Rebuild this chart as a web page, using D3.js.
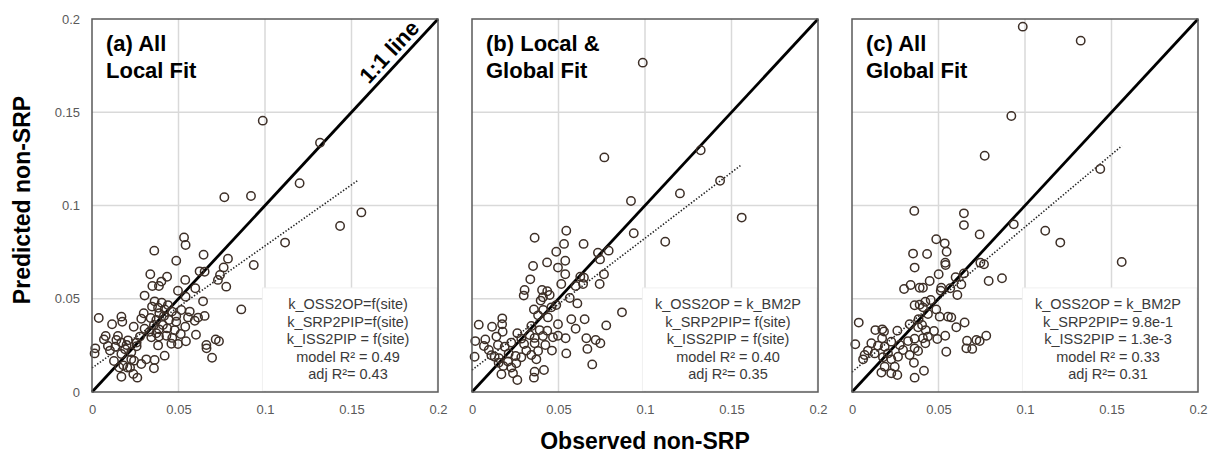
<!DOCTYPE html>
<html>
<head>
<meta charset="utf-8">
<script src="https://cdn.jsdelivr.net/npm/d3@7"></script>
<style>
    body { margin: 0; background: #fff; }
    svg { font-family: "Liberation Sans", Arial, sans-serif; display: block; }
</style>
</head>
<body>
<div id="chart"></div>
<script>
// observed vs predicted non-SRP, [observed, predicted]
const localFit = [
    [0.0532,0.0829],[0.0541,0.0788],[0.0360,0.0758],[0.0645,0.0736],[0.0786,0.0715],[0.0487,0.0704],
    [0.0935,0.0681],[0.0761,0.0668],[0.0622,0.0647],[0.0651,0.0645],[0.0337,0.0631],[0.0434,0.0618],
    [0.0740,0.0627],[0.0728,0.0601],[0.0539,0.0601],[0.0401,0.0592],[0.0349,0.0568],[0.0387,0.0568],
    [0.0776,0.0565],[0.0597,0.0556],[0.0497,0.0543],[0.0304,0.0517],[0.0541,0.0511],[0.0642,0.0486],
    [0.0362,0.0486],[0.0403,0.0479],[0.0439,0.0466],[0.0347,0.0458],[0.0382,0.0452],[0.0420,0.0443],
    [0.0863,0.0443],[0.0462,0.0431],[0.0516,0.0440],[0.0565,0.0431],[0.0299,0.0422],[0.0389,0.0422],
    [0.0416,0.0408],[0.0339,0.0397],[0.0487,0.0408],[0.0555,0.0400],[0.0613,0.0399],[0.0651,0.0408],
    [0.0039,0.0397],[0.0170,0.0404],[0.0285,0.0393],[0.0372,0.0386],[0.0445,0.0386],[0.0175,0.0377],
    [0.0116,0.0363],[0.0358,0.0359],[0.0410,0.0359],[0.0487,0.0377],[0.0594,0.0382],[0.0539,0.0350],
    [0.0241,0.0350],[0.0304,0.0339],[0.0435,0.0341],[0.0387,0.0336],[0.0478,0.0332],[0.0333,0.0323],
    [0.0372,0.0315],[0.0513,0.0311],[0.0601,0.0307],[0.0079,0.0300],[0.0150,0.0300],[0.0277,0.0297],
    [0.0343,0.0293],[0.0430,0.0302],[0.0387,0.0297],[0.0464,0.0290],[0.0069,0.0282],[0.0141,0.0279],
    [0.0208,0.0277],[0.0170,0.0265],[0.0258,0.0265],[0.0200,0.0252],[0.0382,0.0250],[0.0459,0.0259],
    [0.0497,0.0257],[0.0543,0.0272],[0.0715,0.0282],[0.0734,0.0272],[0.0661,0.0252],[0.0662,0.0234],
    [0.0019,0.0234],[0.0092,0.0247],[0.0135,0.0243],[0.0191,0.0229],[0.0258,0.0245],[0.0015,0.0207],
    [0.0104,0.0222],[0.0170,0.0204],[0.0227,0.0213],[0.0420,0.0195],[0.0694,0.0184],[0.0127,0.0166],
    [0.0227,0.0175],[0.0243,0.0168],[0.0314,0.0175],[0.0362,0.0172],[0.0181,0.0143],[0.0220,0.0131],
    [0.0285,0.0150],[0.0358,0.0127],[0.0158,0.0131],[0.0204,0.0131],[0.0239,0.0097],[0.0170,0.0082],
    [0.0262,0.0077],
    [0.0987,0.1455],[0.1318,0.1337],[0.1200,0.1119],[0.0765,0.1044],[0.0919,0.1051],[0.1557,0.0963],
    [0.1434,0.0890],[0.1116,0.0801]
];

const mixedFit = [
    [0.0362,0.0827],[0.0545,0.0865],[0.0532,0.0794],[0.0645,0.0794],[0.0487,0.0752],[0.0728,0.0747],
    [0.0790,0.0758],[0.0935,0.0851],[0.0740,0.0711],[0.0353,0.0676],[0.0434,0.0695],[0.0539,0.0704],
    [0.0497,0.0667],[0.0337,0.0604],[0.0539,0.0631],[0.0763,0.0631],[0.0626,0.0618],[0.0647,0.0613],
    [0.0738,0.0579],[0.0516,0.0579],[0.0599,0.0568],[0.0642,0.0579],[0.0304,0.0547],[0.0299,0.0517],
    [0.0405,0.0547],[0.0435,0.0540],[0.0410,0.0508],[0.0449,0.0520],[0.0397,0.0490],[0.0565,0.0504],
    [0.0609,0.0475],[0.0487,0.0466],[0.0459,0.0454],[0.0358,0.0443],[0.0412,0.0440],[0.0382,0.0411],
    [0.0439,0.0400],[0.0867,0.0427],[0.0039,0.0361],[0.0116,0.0350],[0.0175,0.0395],[0.0174,0.0363],
    [0.0497,0.0363],[0.0574,0.0390],[0.0651,0.0390],[0.0776,0.0357],[0.0343,0.0354],[0.0177,0.0323],
    [0.0391,0.0332],[0.0435,0.0329],[0.0599,0.0339],[0.0141,0.0297],[0.0077,0.0282],[0.0262,0.0315],
    [0.0285,0.0286],[0.0333,0.0306],[0.0362,0.0290],[0.0410,0.0300],[0.0468,0.0293],[0.0497,0.0302],
    [0.0541,0.0288],[0.0661,0.0288],[0.0715,0.0279],[0.0742,0.0261],[0.0019,0.0273],[0.0069,0.0247],
    [0.0150,0.0252],[0.0189,0.0243],[0.0227,0.0265],[0.0301,0.0257],[0.0362,0.0261],[0.0424,0.0252],
    [0.0314,0.0222],[0.0382,0.0220],[0.0462,0.0222],[0.0545,0.0207],[0.0667,0.0231],[0.0015,0.0189],
    [0.0112,0.0197],[0.0156,0.0181],[0.0212,0.0207],[0.0252,0.0193],[0.0285,0.0186],[0.0343,0.0198],
    [0.0208,0.0163],[0.0256,0.0154],[0.0372,0.0175],[0.0131,0.0189],[0.0181,0.0139],[0.0227,0.0131],
    [0.0695,0.0148],[0.0362,0.0109],[0.0416,0.0118],[0.0170,0.0095],[0.0262,0.0064],[0.0358,0.0077],
    [0.0237,0.0100],[0.0154,0.0157],[0.0097,0.0225],
    [0.0987,0.1766],[0.0765,0.1258],[0.1322,0.1296],[0.1434,0.1133],[0.1202,0.1065],[0.0919,0.1024],
    [0.1559,0.0935],[0.1117,0.0806]
];

const globalFit = [
    [0.0647,0.0895],[0.0738,0.0845],[0.0935,0.0899],[0.0487,0.0819],[0.0536,0.0797],[0.0547,0.0752],
    [0.0353,0.0742],[0.0434,0.0740],[0.0362,0.0667],[0.0539,0.0693],[0.0541,0.0681],[0.0742,0.0693],
    [0.0763,0.0685],[0.0501,0.0631],[0.0599,0.0615],[0.0647,0.0636],[0.0790,0.0595],[0.0867,0.0610],
    [0.0449,0.0595],[0.0339,0.0574],[0.0301,0.0552],[0.0391,0.0559],[0.0410,0.0559],[0.0516,0.0559],
    [0.0513,0.0543],[0.0568,0.0556],[0.0632,0.0577],[0.0609,0.0520],[0.0424,0.0484],[0.0391,0.0468],
    [0.0362,0.0465],[0.0455,0.0493],[0.0410,0.0454],[0.0487,0.0443],[0.0439,0.0418],[0.0385,0.0391],
    [0.0507,0.0404],[0.0555,0.0404],[0.0574,0.0400],[0.0651,0.0373],[0.0039,0.0372],[0.0603,0.0347],
    [0.0135,0.0332],[0.0175,0.0336],[0.0185,0.0324],[0.0262,0.0329],[0.0333,0.0363],[0.0405,0.0359],
    [0.0474,0.0327],[0.0382,0.0347],[0.0426,0.0332],[0.0539,0.0302],[0.0493,0.0284],[0.0439,0.0297],
    [0.0362,0.0286],[0.0410,0.0288],[0.0776,0.0302],[0.0719,0.0279],[0.0665,0.0275],[0.0738,0.0273],
    [0.0661,0.0234],[0.0695,0.0231],[0.0019,0.0256],[0.0112,0.0261],[0.0150,0.0248],[0.0174,0.0288],
    [0.0092,0.0222],[0.0073,0.0198],[0.0064,0.0175],[0.0131,0.0207],[0.0189,0.0243],[0.0227,0.0270],
    [0.0276,0.0252],[0.0324,0.0273],[0.0362,0.0234],[0.0382,0.0220],[0.0424,0.0261],[0.0295,0.0225],
    [0.0333,0.0198],[0.0227,0.0175],[0.0266,0.0189],[0.0545,0.0216],[0.0179,0.0186],[0.0189,0.0136],
    [0.0170,0.0104],[0.0227,0.0100],[0.0262,0.0091],[0.0358,0.0157],[0.0416,0.0114],[0.0362,0.0077],
    [0.0247,0.0136],[0.0208,0.0207],
    [0.0360,0.0971],[0.0987,0.1959],[0.1322,0.1884],[0.0921,0.1480],[0.0767,0.1267],[0.1435,0.1196],
    [0.0647,0.0958],[0.1117,0.0865],[0.1204,0.0801],[0.1559,0.0697]
];

const panelData = [localFit, mixedFit, globalFit];

// trend line end points [observed, predicted]
const trendLines = [
    [[0, 0.0129], [0.154, 0.1137]],
    [[0, 0.0118], [0.156, 0.122]],
    [[0, 0.0107], [0.156, 0.132]]
];

const panelTitles = [
    ["(a) All", "Local Fit"],
    ["(b) Local &", "Global Fit"],
    ["(c) All", "Global Fit"]
];

const fitNotes = [
    ["k_OSS2OP=f(site)", "k_SRP2PIP=f(site)", "k_ISS2PIP = f(site)", "model R\u00b2 = 0.49", "adj R\u00b2= 0.43"],
    ["k_OSS2OP = k_BM2P", "k_SRP2PIP= f(site)", "k_ISS2PIP = f(site)", "model R\u00b2 = 0.40", "adj R\u00b2= 0.35"],
    ["k_OSS2OP = k_BM2P", "k_SRP2PIP= 9.8e-1", "k_ISS2PIP = 1.3e-3", "model R\u00b2 = 0.33", "adj R\u00b2= 0.31"]
];

const tickValues = [0, 0.05, 0.1, 0.15, 0.2];
const gridValues = [0.05, 0.1, 0.15];

const width = 1212,
    height = 453,
    panelW = 346,
    panelH = 373,
    panelTop = 19;
const panelLeft = [92, 472, 852];

const svg = d3.select("#chart")
    .append("svg")
    .attr("width", width)
    .attr("height", height);

const x = d3.scaleLinear().domain([0, 0.2]).range([0, panelW]);
const y = d3.scaleLinear().domain([0, 0.2]).range([panelH, 0]);

const tickFmt = d => d === 0 ? "0" : String(d);

panelData.forEach(function(data, i){
    const g = svg.append("g")
        .attr("transform", `translate(${panelLeft[i]},${panelTop})`);

    // grid
    g.selectAll(".vgrid")
        .data(gridValues)
        .join("line")
        .attr("x1", d => x(d)).attr("x2", d => x(d))
        .attr("y1", 0).attr("y2", panelH)
        .attr("stroke", "#d9d9d9")
        .attr("stroke-width", 1.5);
    g.selectAll(".hgrid")
        .data(gridValues)
        .join("line")
        .attr("y1", d => y(d)).attr("y2", d => y(d))
        .attr("x1", 0).attr("x2", panelW)
        .attr("stroke", "#d9d9d9")
        .attr("stroke-width", 1.5);

    // white note box covers the grid
    g.append("rect")
        .attr("x", x(0.0985))
        .attr("y", y(0.0558))
        .attr("width", panelW - x(0.0985) - 1)
        .attr("height", panelH - y(0.0558) - 1)
        .attr("fill", "#fff")
        .attr("stroke", "#f0f0f0");

    g.append("g")
        .selectAll("text")
        .data(fitNotes[i])
        .join("text")
        .attr("x", 256)
        .attr("y", (d, k) => 290 + k * 17.6)
        .attr("text-anchor", "middle")
        .attr("font-size", "14.5px")
        .attr("fill", "#3a3a3a")
        .text(d => d);

    // 1:1 line
    g.append("line")
        .attr("x1", x(0)).attr("y1", y(0))
        .attr("x2", x(0.2)).attr("y2", y(0.2))
        .attr("stroke", "#000")
        .attr("stroke-width", 2.8);

    // dotted trend line
    g.append("line")
        .attr("x1", x(trendLines[i][0][0])).attr("y1", y(trendLines[i][0][1]))
        .attr("x2", x(trendLines[i][1][0])).attr("y2", y(trendLines[i][1][1]))
        .attr("stroke", "#222")
        .attr("stroke-width", 1.6)
        .attr("stroke-dasharray", "1.4,1.8");

    // points
    g.append("g")
        .selectAll("circle")
        .data(data)
        .join("circle")
        .attr("cx", d => x(d[0]))
        .attr("cy", d => y(d[1]))
        .attr("r", 4.2)
        .attr("fill", "none")
        .attr("stroke", "#3d2f27")
        .attr("stroke-width", 1.5);

    // frame
    g.append("rect")
        .attr("width", panelW)
        .attr("height", panelH)
        .attr("fill", "none")
        .attr("stroke", "#595959")
        .attr("stroke-width", 1.5);

    // panel title
    g.append("text")
        .attr("x", 14)
        .attr("y", 32)
        .attr("font-size", "22px")
        .attr("font-weight", "bold")
        .selectAll("tspan")
        .data(panelTitles[i])
        .join("tspan")
        .attr("x", 14)
        .attr("dy", (d, k) => k == 0 ? 0 : 27)
        .text(d => d);

    // x axis
    const xAxis = g.append("g")
        .attr("transform", `translate(0,${panelH})`)
        .call(d3.axisBottom(x).tickValues(tickValues).tickSize(0).tickPadding(13).tickFormat(tickFmt));
    xAxis.select(".domain").remove();
    xAxis.selectAll("text")
        .attr("font-size", "13px")
        .attr("font-family", "Liberation Sans, Arial, sans-serif")
        .attr("fill", "#595959");

    if(i == 0){
        const yAxis = g.append("g")
            .call(d3.axisLeft(y).tickValues(tickValues).tickSize(0).tickPadding(12).tickFormat(tickFmt));
        yAxis.select(".domain").remove();
        yAxis.selectAll("text")
            .attr("font-size", "13px")
            .attr("font-family", "Liberation Sans, Arial, sans-serif")
            .attr("fill", "#595959");

        // label along the 1:1 line
        const ang = Math.atan2(y(0) - y(0.2), x(0.2) - x(0)) * 180 / Math.PI;
        g.append("text")
            .attr("transform", `translate(${x(0.1775)},${y(0.1775)}) rotate(${-ang})`)
            .attr("y", -6)
            .attr("text-anchor", "middle")
            .attr("font-size", "22px")
            .attr("font-weight", "bold")
            .text("1:1 line");
    }
});

// axis titles
svg.append("text")
    .attr("x", 645)
    .attr("y", 449)
    .attr("text-anchor", "middle")
    .attr("font-size", "23px")
    .attr("font-weight", "bold")
    .text("Observed non-SRP");

svg.append("text")
    .attr("transform", "translate(30,200) rotate(-90)")
    .attr("text-anchor", "middle")
    .attr("font-size", "23px")
    .attr("font-weight", "bold")
    .text("Predicted non-SRP");
</script>
</body>
</html>
